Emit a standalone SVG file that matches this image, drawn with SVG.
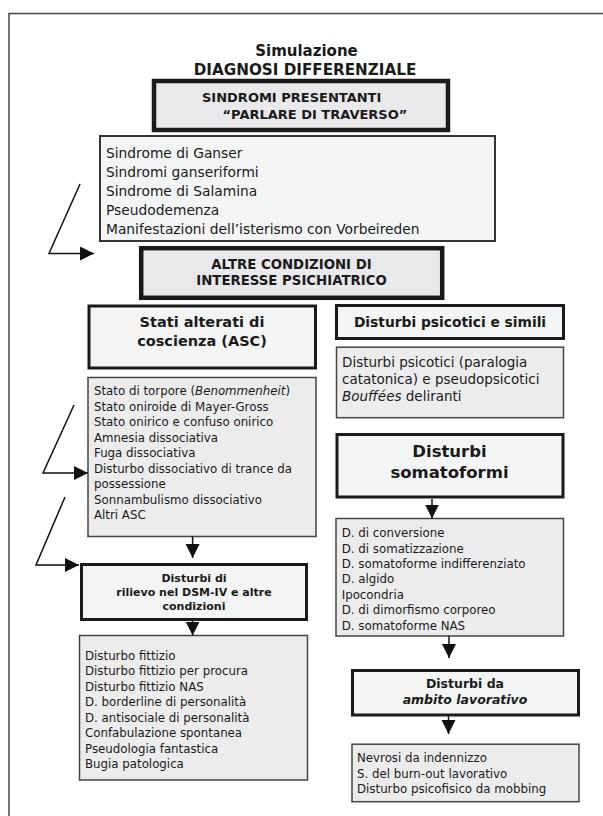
<svg xmlns="http://www.w3.org/2000/svg" width="603" height="816" viewBox="0 0 603 816">
<style>
text{font-family:"DejaVu Sans",Verdana,sans-serif;fill:#1a1a1a}
.b{font-weight:bold}
.hd{fill:#e9e9eb;stroke:#1a1a1a;stroke-width:4.5}
.ti{fill:#f3f5f4;stroke:#1a1a1a;stroke-width:3}
.ls{fill:#ececec;stroke:#444;stroke-width:1.5}
.l1{fill:#f3f5f4;stroke:#333;stroke-width:2}
.c{fill:none;stroke:#111;stroke-width:1.5}
.s{font-size:11.8px}
</style>
<defs>
<marker id="ah" markerUnits="userSpaceOnUse" markerWidth="15" markerHeight="15" refX="14" refY="7" orient="auto" viewBox="0 0 15 15">
<path d="M0,0 L14,7 L0,14 z" fill="#111"/>
</marker>
</defs>
<path d="M9,816 V13.5 H603" fill="none" stroke="#444" stroke-width="1.5"/>
<g id="title">
<text class="b" x="306.5" y="56" font-size="15" text-anchor="middle">Simulazione</text>
<text class="b" x="305" y="75" font-size="15.2" text-anchor="middle">DIAGNOSI DIFFERENZIALE</text>
</g>
<g id="sindromi">
<rect class="hd" x="154" y="81" width="294" height="49"/>
<text class="b" x="202" y="102.3" font-size="13">SINDROMI PRESENTANTI</text>
<text class="b" x="222.5" y="119" font-size="13">“PARLARE DI TRAVERSO”</text>
</g>
<g id="lista-sindromi">
<rect class="l1" x="100" y="136" width="395" height="105"/>
<text x="106" y="157.5" font-size="13.8">Sindrome di Ganser</text>
<text x="106" y="176.5" font-size="13.8">Sindromi ganseriformi</text>
<text x="106" y="195.5" font-size="13.8">Sindrome di Salamina</text>
<text x="106" y="215" font-size="13.8">Pseudodemenza</text>
<text x="106" y="234" font-size="13.8">Manifestazioni dell’isterismo con Vorbeireden</text>
</g>
<g id="altre">
<rect class="hd" x="141.2" y="248.2" width="301" height="49.6"/>
<text class="b" x="291.5" y="269.3" font-size="13.3" text-anchor="middle">ALTRE CONDIZIONI DI</text>
<text class="b" x="291.5" y="285" font-size="13.3" text-anchor="middle">INTERESSE PSICHIATRICO</text>
</g>
<g id="asc">
<rect class="ti" x="89" y="306" width="226.5" height="62"/>
<text class="b" x="202" y="327.3" font-size="14.5" text-anchor="middle">Stati alterati di</text>
<text class="b" x="202" y="346" font-size="14.5" text-anchor="middle">coscienza (ASC)</text>
</g>
<g id="lista-asc" class="s">
<rect class="ls" x="88" y="377.5" width="228" height="159"/>
<text x="94" y="395">Stato di torpore (<tspan font-style="italic">Benommenheit</tspan>)</text>
<text x="94" y="410.5">Stato oniroide di Mayer-Gross</text>
<text x="94" y="426">Stato onirico e confuso onirico</text>
<text x="94" y="441.5">Amnesia dissociativa</text>
<text x="94" y="457">Fuga dissociativa</text>
<text x="94" y="472.5">Disturbo dissociativo di trance da</text>
<text x="94" y="488">possessione</text>
<text x="94" y="503.5">Sonnambulismo dissociativo</text>
<text x="94" y="519">Altri ASC</text>
</g>
<g id="dsm">
<rect class="ti" x="81.5" y="564.5" width="225" height="55"/>
<text class="b" x="194" y="581.7" font-size="11" text-anchor="middle">Disturbi di</text>
<text class="b" x="194" y="596" font-size="11" text-anchor="middle">rilievo nel DSM-IV e altre</text>
<text class="b" x="194" y="610" font-size="11" text-anchor="middle">condizioni</text>
</g>
<g id="lista-dsm" class="s">
<rect class="ls" x="79.5" y="635.5" width="228" height="144.5"/>
<text x="85" y="659.5">Disturbo fittizio</text>
<text x="85" y="675">Disturbo fittizio per procura</text>
<text x="85" y="690.5">Disturbo fittizio NAS</text>
<text x="85" y="706">D. borderline di personalità</text>
<text x="85" y="721.5">D. antisociale di personalità</text>
<text x="85" y="737">Confabulazione spontanea</text>
<text x="85" y="752.5">Pseudologia fantastica</text>
<text x="85" y="768">Bugia patologica</text>
</g>
<g id="psicotici">
<rect class="ti" x="336.5" y="305.5" width="227" height="33"/>
<text class="b" x="450" y="327.3" font-size="13.8" text-anchor="middle">Disturbi psicotici e simili</text>
</g>
<g id="lista-psicotici">
<rect class="ls" x="336.5" y="347.2" width="227" height="70.5"/>
<text x="342" y="366.7" font-size="13.5">Disturbi psicotici (paralogia</text>
<text x="342" y="384" font-size="13.5">catatonica) e pseudopsicotici</text>
<text x="342" y="401" font-size="13.5"><tspan font-style="italic">Bouffées</tspan> deliranti</text>
</g>
<g id="somatoformi">
<rect class="ti" x="337" y="434.5" width="226" height="62.5" stroke-width="3.5"/>
<text class="b" x="449.5" y="456.7" font-size="16.5" text-anchor="middle">Disturbi</text>
<text class="b" x="449.5" y="478" font-size="16.5" text-anchor="middle">somatoformi</text>
</g>
<g id="lista-somatoformi" class="s">
<rect class="ls" x="336" y="518.5" width="227.5" height="117.5"/>
<text x="341.7" y="537">D. di conversione</text>
<text x="341.7" y="552.5">D. di somatizzazione</text>
<text x="341.7" y="568">D. somatoforme indifferenziato</text>
<text x="341.7" y="583.3">D. algido</text>
<text x="341.7" y="598.7">Ipocondria</text>
<text x="341.7" y="614">D. di dimorfismo corporeo</text>
<text x="341.7" y="629.5">D. somatoforme NAS</text>
</g>
<g id="lavorativo">
<rect class="ti" x="352.5" y="670.5" width="226" height="44.5"/>
<text class="b" x="465" y="688.3" font-size="12.5" text-anchor="middle">Disturbi da</text>
<text class="b" x="465" y="703.8" font-size="12.5" text-anchor="middle" font-style="italic">ambito lavorativo</text>
</g>
<g id="lista-lavorativo" class="s">
<rect class="ls" x="352" y="744.2" width="227" height="57.5"/>
<text x="357" y="762">Nevrosi da indennizzo</text>
<text x="357" y="777.5">S. del burn-out lavorativo</text>
<text x="357" y="793">Disturbo psicofisico da mobbing</text>
</g>
<g id="connectors">
<path class="c" d="M80,184 L49,253.5 L94,253.5" marker-end="url(#ah)"/>
<path class="c" d="M74,405 L43,473 L88,473" marker-end="url(#ah)"/>
<path class="c" d="M65,497 L36,565 L79,565" marker-end="url(#ah)"/>
<path class="c" d="M192.6,536.5 V558" marker-end="url(#ah)"/>
<path class="c" d="M192.6,621 V635.5" marker-end="url(#ah)"/>
<path class="c" d="M432,499 V518.5" marker-end="url(#ah)"/>
<path class="c" d="M449,636 V658" marker-end="url(#ah)"/>
<path class="c" d="M448.5,716 V734" marker-end="url(#ah)"/>
</g>
</svg>
